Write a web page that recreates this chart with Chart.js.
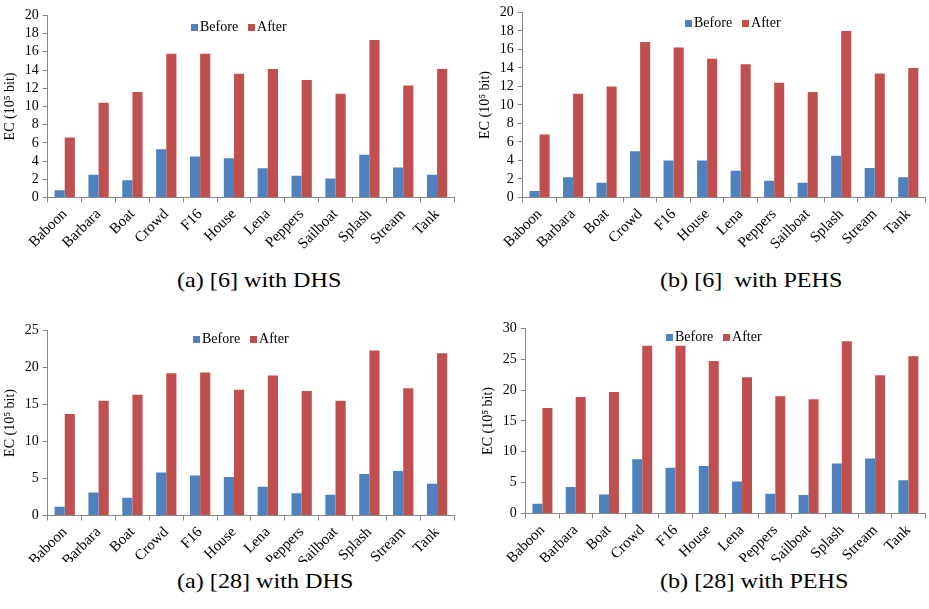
<!DOCTYPE html>
<html>
<head>
<meta charset="utf-8">
<script src="https://cdn.jsdelivr.net/npm/chart.js@4"></script>
<style>
  body { margin: 0; background: #fff; width: 929px; height: 609px; position: relative; overflow: hidden; font-family: 'Liberation Serif', serif; }
  .clip { position: absolute; overflow: hidden; }
  .cap { position: absolute; font-size: 21px; color: #000; white-space: pre; transform: scaleX(1.15); transform-origin: left top; }
  .legend { position: absolute; font-size: 14px; line-height: 16px; color: #000; white-space: nowrap; }
  .legend span.box { display: inline-block; width: 7px; height: 7px; margin-right: 2px; }
  .legend span.item { margin-right: 10px; }
</style>
</head>
<body>

<script>
const categories = ['Baboon', 'Barbara', 'Boat', 'Crowd', 'F16', 'House', 'Lena', 'Peppers', 'Sailboat', 'Splash', 'Stream', 'Tank'];

const before6DHS = [0.8, 2.5, 1.9, 5.3, 4.5, 4.3, 3.2, 2.4, 2.1, 4.7, 3.3, 2.5];
const after6DHS = [6.6, 10.4, 11.6, 15.8, 15.8, 13.6, 14.1, 12.9, 11.4, 17.3, 12.3, 14.1];

const before6PEHS = [0.7, 2.2, 1.6, 5.0, 4.0, 4.0, 2.9, 1.8, 1.6, 4.5, 3.2, 2.2];
const after6PEHS = [6.8, 11.2, 12.0, 16.8, 16.2, 15.0, 14.4, 12.4, 11.4, 18.0, 13.4, 14.0];

const before28DHS = [1.2, 3.1, 2.4, 5.8, 5.4, 5.2, 3.9, 3.0, 2.8, 5.6, 6.0, 4.3];
const after28DHS = [13.7, 15.5, 16.3, 19.2, 19.3, 17.0, 18.9, 16.8, 15.5, 22.3, 17.2, 21.9];

const before28PEHS = [1.6, 4.3, 3.1, 8.8, 7.4, 7.7, 5.2, 3.2, 3.0, 8.1, 8.9, 5.4];
const after28PEHS = [17.1, 18.9, 19.7, 27.2, 27.2, 24.7, 22.1, 19.0, 18.5, 27.9, 22.4, 25.5];

const seriesLabels = ['Before', 'After'];
const seriesColors = ['#4F81BD', '#C0504D'];

const panels = [
  { before: before6DHS, after: after6DHS, max: 20, step: 2, left: 0, top: 3, w: 458, h: 253, clipH: 253, legendX: 191, legendY: 19, caption: '(a) [6] with DHS', capX: 177, capY: 268 },
  { before: before6PEHS, after: after6PEHS, max: 20, step: 2, left: 475, top: 0, w: 454, h: 256, clipH: 256, legendX: 685, legendY: 15, caption: '(b) [6]  with PEHS', capX: 660, capY: 268 },
  { before: before28DHS, after: after28DHS, max: 25, step: 5, left: 0, top: 318, w: 458, h: 256, clipH: 244, legendX: 193, legendY: 331, caption: '(a) [28] with DHS', capX: 177, capY: 569 },
  { before: before28PEHS, after: after28PEHS, max: 30, step: 5, left: 478, top: 316, w: 451, h: 256, clipH: 246, legendX: 666, legendY: 329, caption: '(b) [28] with PEHS', capX: 660, capY: 569 }
];

const serif = "'Liberation Serif', 'Times New Roman', serif";

panels.forEach((p, i) => {
  // outer div cuts the bottom labels off the way the original figure does
  const clip = document.createElement('div');
  clip.className = 'clip';
  clip.style.left = p.left + 'px';
  clip.style.top = p.top + 'px';
  clip.style.width = p.w + 'px';
  clip.style.height = p.clipH + 'px';
  const div = document.createElement('div');
  div.style.position = 'relative';
  div.style.width = p.w + 'px';
  div.style.height = p.h + 'px';
  const canvas = document.createElement('canvas');
  div.appendChild(canvas);
  clip.appendChild(div);
  document.body.appendChild(clip);

  const chart = new Chart(canvas.getContext('2d'), {
    type: 'bar',
    data: {
      labels: categories,
      datasets: [
        { label: seriesLabels[0], data: p.before, backgroundColor: seriesColors[0] },
        { label: seriesLabels[1], data: p.after, backgroundColor: seriesColors[1] }
      ]
    },
    options: {
      responsive: true,
      maintainAspectRatio: false,
      animation: false,
      layout: { padding: { top: 0, right: 4, left: 0, bottom: 0 } },
      datasets: { bar: { barPercentage: 1.0, categoryPercentage: 0.6 } },
      plugins: { legend: { display: false }, tooltip: { enabled: false } },
      scales: {
        x: {
          grid: { offset: true, drawOnChartArea: false, color: '#888', tickLength: 5 },
          border: { color: '#888' },
          ticks: { autoSkip: false, maxRotation: 45, minRotation: 45, color: '#000', font: { family: serif, size: 15 } }
        },
        y: {
          min: 0, max: p.max,
          grid: { drawOnChartArea: false, color: '#888', tickLength: 5 },
          border: { color: '#888' },
          ticks: { stepSize: p.step, autoSkip: false, color: '#000', padding: 4, font: { family: serif, size: 14 } },
          title: { display: true, text: 'EC (10\u2075 bit)', color: '#000', font: { family: serif, size: 14 }, padding: 2 }
        }
      }
    }
  });

  // legend overlaid inside the plot, like the original
  const leg = document.createElement('div');
  leg.className = 'legend';
  leg.style.left = p.legendX + 'px';
  leg.style.top = p.legendY + 'px';
  leg.innerHTML = chart.data.datasets.map(d =>
    `<span class="item"><span class="box" style="background:${d.backgroundColor}"></span>${d.label}</span>`).join('');
  document.body.appendChild(leg);

  const cap = document.createElement('div');
  cap.className = 'cap';
  cap.style.left = p.capX + 'px';
  cap.style.top = p.capY + 'px';
  cap.textContent = p.caption;
  document.body.appendChild(cap);
});
</script>
</body>
</html>
